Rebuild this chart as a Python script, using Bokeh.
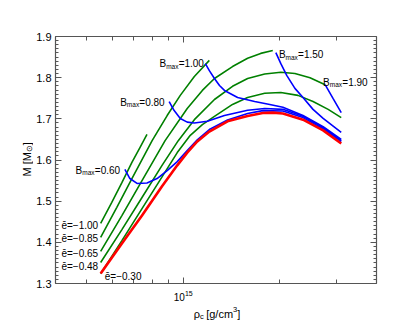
import math
from bokeh.plotting import figure
from bokeh.layouts import row, column
from bokeh.models import (Range1d, FixedTicker, LinearAxis, LogAxis, Label,
                          CustomJSTickFormatter)
from bokeh.embed import file_html
from bokeh.resources import INLINE

# ---- data: central density (units of 1e15 g/cm^3) and mass (M_sun) ----
# non-magnetised sequence (red)
rho_B0 = [0.553, 0.644, 0.744, 0.859, 0.958, 1.029, 1.106, 1.206, 1.374, 1.587,
          1.769, 1.901, 2.044, 2.361, 2.728, 3.106]
M_B0 = [1.324, 1.397, 1.465, 1.536, 1.587, 1.618, 1.645, 1.669, 1.694, 1.707,
        1.714, 1.715, 1.713, 1.698, 1.672, 1.640]

# constant B_max sequences (blue)
rho_b060 = [0.658, 0.682, 0.718, 0.771, 0.829, 0.891, 0.958, 1.029, 1.106, 1.206,
            1.374, 1.587, 1.769, 2.044, 2.361, 2.728, 3.106]
M_b060 = [1.577, 1.555, 1.543, 1.544, 1.555, 1.574, 1.596, 1.623, 1.649, 1.674,
          1.697, 1.713, 1.720, 1.719, 1.703, 1.676, 1.645]
rho_b080 = [0.904, 0.937, 0.979, 1.029, 1.083, 1.189, 1.344, 1.587, 1.794, 2.044,
            2.361, 2.728, 3.106]
M_b080 = [1.742, 1.720, 1.701, 1.692, 1.690, 1.694, 1.708, 1.721, 1.725, 1.723,
          1.706, 1.679, 1.647]
rho_b100 = [1.172, 1.206, 1.251, 1.297, 1.344, 1.477, 1.669, 1.860, 2.044, 2.361,
            2.728, 3.106]
M_b100 = [1.834, 1.817, 1.798, 1.781, 1.769, 1.752, 1.742, 1.735, 1.728, 1.708,
          1.681, 1.650]
rho_b150 = [1.943, 2.014, 2.103, 2.228, 2.361, 2.537, 2.728, 3.106]
M_b150 = [1.861, 1.834, 1.805, 1.774, 1.752, 1.723, 1.701, 1.667]
rho_b190 = [2.767, 2.931, 3.106]
M_b190 = [1.783, 1.749, 1.715]

# constant e-bar sequences (green)
rho_e100 = [0.553, 0.599, 0.644, 0.692, 0.733, 0.771]
M_e100 = [1.446, 1.497, 1.545, 1.594, 1.630, 1.662]
rho_e085 = [0.553, 0.621, 0.692, 0.800, 0.891, 0.979, 1.083, 1.206]
M_e085 = [1.412, 1.485, 1.555, 1.647, 1.708, 1.757, 1.803, 1.842]
rho_e065 = [0.553, 0.644, 0.744, 0.878, 1.029, 1.147, 1.251, 1.424, 1.587, 1.743, 1.901]
M_e065 = [1.378, 1.465, 1.550, 1.647, 1.725, 1.769, 1.798, 1.827, 1.847, 1.859, 1.866]
rho_e048 = [0.553, 0.644, 0.744, 0.859, 0.965, 1.083, 1.251, 1.424, 1.587, 1.794,
            2.014, 2.228, 2.483, 2.767]
M_e048 = [1.351, 1.431, 1.509, 1.587, 1.647, 1.698, 1.747, 1.779, 1.798, 1.809,
          1.813, 1.810, 1.800, 1.783]
rho_e030 = [0.553, 0.644, 0.744, 0.859, 0.958, 1.052, 1.147, 1.251, 1.424, 1.587,
            1.794, 2.014, 2.277, 2.537, 2.828, 3.106]
M_e030 = [1.324, 1.404, 1.482, 1.559, 1.618, 1.660, 1.686, 1.706, 1.735, 1.752,
          1.762, 1.764, 1.757, 1.742, 1.723, 1.703]

e_texts = ["ē=−1.00", "ē=−0.85", "ē=−0.65", "ē=−0.48", "ē=−0.30"]
b_texts = ["=0.60", "=0.80", "=1.00", "=1.50", "=1.90"]

x_major_ticks = [1e15]
x_minor_ticks = [4e14, 5e14, 6e14, 7e14, 8e14, 9e14, 2e15, 3e15, 4e15]
y_major_ticks = [1.3, 1.4, 1.5, 1.6, 1.7, 1.8, 1.9]
y_minor_ticks = [round(1.3 + 0.01 * i, 2) for i in range(61) if i % 10]

# ---- layout / style ----
FONT = "Liberation Sans"
AX = "#555555"
GREEN = "#008000"
BLUE = "#0000ff"
RED = "#ff0000"

YT_W = 33          # width of the strip holding the y title
MAIN_H = 305       # height of main figure
XT_H = 21          # height of the strip holding the x title

p = figure(frame_width=321, frame_height=247, x_axis_type="log",
           x_range=Range1d(4e14, 4e15), y_range=Range1d(1.3, 1.9),
           output_backend="svg", toolbar_location=None,
           min_border_left=53 - YT_W, min_border_right=25,
           min_border_top=36, min_border_bottom=MAIN_H - 36 - 247)
p.grid.visible = False
p.outline_line_color = None
p.background_fill_color = "white"

xt = FixedTicker(ticks=x_major_ticks, minor_ticks=x_minor_ticks)
yt = FixedTicker(ticks=y_major_ticks, minor_ticks=y_minor_ticks)


def style(ax, minor_len):
    ax.axis_line_color = AX
    ax.axis_line_width = 1.2
    ax.major_tick_line_color = AX
    ax.minor_tick_line_color = AX
    ax.major_tick_in = 6
    ax.major_tick_out = 0
    ax.minor_tick_in = minor_len
    ax.minor_tick_out = 0
    ax.major_label_text_font = FONT
    ax.major_label_text_color = "black"


xa = p.xaxis[0]
xa.ticker = xt
style(xa, 4)
xa.major_label_text_font_size = "10px"
xa.major_label_standoff = 6

ya = p.yaxis[0]
ya.ticker = yt
style(ya, 3)
ya.major_label_text_font_size = "11px"
ya.major_label_standoff = 4

blank = CustomJSTickFormatter(code="return ''")
ra = LinearAxis(ticker=yt, formatter=blank)
style(ra, 3)
p.add_layout(ra, "right")
ta = LogAxis(ticker=xt, formatter=blank)
style(ta, 4)
p.add_layout(ta, "above")

# ---- curves ----
greens = [(rho_e100, M_e100), (rho_e085, M_e085), (rho_e065, M_e065),
          (rho_e048, M_e048), (rho_e030, M_e030)]
blues = [(rho_b060, M_b060), (rho_b080, M_b080), (rho_b100, M_b100),
         (rho_b150, M_b150), (rho_b190, M_b190)]
for r, m in greens:
    p.line([v * 1e15 for v in r], m, line_color=GREEN, line_width=1.6)
for r, m in blues:
    p.line([v * 1e15 for v in r], m, line_color=BLUE, line_width=1.6)
p.line([v * 1e15 for v in rho_B0], M_B0, line_color=RED, line_width=2.6)


def lab(fig, x, y, text, size, dx=0.0, dy=0.0, angle=0.0):
    fig.add_layout(Label(x=x, y=y, x_units="data", y_units="data", text=text,
                         text_font=FONT, text_font_size=f"{size}px",
                         text_color="black", x_offset=dx, y_offset=dy,
                         angle=angle, text_align="left",
                         text_baseline="alphabetic"))


# B_max labels (anchor of the "B")
b_pos = [(0.462e15, 1.5745), (0.636e15, 1.7404), (0.843e15, 1.8337),
         (1.986e15, 1.8562), (2.727e15, 1.789)]
for (x, y), t in zip(b_pos, b_texts):
    lab(p, x, y, "B", 10)
    lab(p, x, y, "max", 6.5, dx=6.7, dy=-2.5)
    lab(p, x, y, t, 10, dx=19.2)

# e-bar labels
e_pos = [(0.4174e15, 1.4409), (0.4174e15, 1.4093), (0.4174e15, 1.3736),
         (0.4174e15, 1.3413), (0.5696e15, 1.317)]
for (x, y), t in zip(e_pos, e_texts):
    lab(p, x, y, t, 10)


def strip(w, h, x0):
    f = figure(width=w, height=h, x_range=Range1d(x0, x0 + w), y_range=Range1d(0, h),
               output_backend="svg", toolbar_location=None,
               x_axis_location=None, y_axis_location=None,
               min_border=0)
    f.grid.visible = False
    f.outline_line_color = None
    return f


main_w = (53 - YT_W) + 321 + 25

# x axis title  rho_c [g/cm^3]   (strip below the main figure)
qx = strip(main_w, XT_H, YT_W)
bx, by = 191.5, XT_H - (313 - MAIN_H)
lab(qx, bx, by, "ρ", 11)
lab(qx, bx, by, "c", 7.5, dx=6.3, dy=-2.5)
lab(qx, bx, by, "[g/cm", 11, dx=12.5)
lab(qx, bx, by, "3", 7.5, dx=39.4, dy=4.5)
lab(qx, bx, by, "]", 11, dx=43.6)

# y axis title  M [M_sun]   (strip left of the main figure)
qy = strip(YT_W, MAIN_H, 0)
ax_, ay_ = 26.5, MAIN_H - 176
lab(qy, ax_, ay_, "M [M", 11, angle=math.pi / 2)
lab(qy, ax_, ay_, "⊙", 8, dx=2.0, dy=24.4, angle=math.pi / 2)
lab(qy, ax_, ay_, "]", 11, dy=31.3, angle=math.pi / 2)

layout = row(qy, column(p, qx))
open("out.html", "w").write(file_html(layout, INLINE))
